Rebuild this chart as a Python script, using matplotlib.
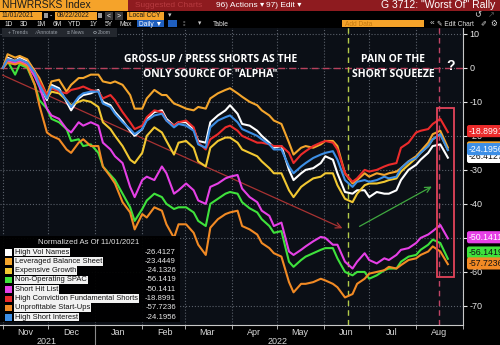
import pandas as pd
import matplotlib
matplotlib.use("Agg")
import matplotlib.pyplot as plt
import matplotlib.dates as mdates
from matplotlib.patches import Rectangle, Circle
from matplotlib.lines import Line2D
from matplotlib.transforms import blended_transform_factory

plt.rcParams["axes.unicode_minus"] = False
plt.rcParams["font.family"] = ["Liberation Sans", "DejaVu Sans"]

W, H = 500, 345

# every third business day, 11/01/2021 .. 08/22/2022
dates = pd.bdate_range("2021-11-01", "2022-08-22")[::3]

names = ["High Vol Names", "Leveraged Balance Sheet", "Expensive Growth", "Non-Operating SPAC",
         "Short Hit List", "High Conviction Fundamental Shorts", "Unprofitable Start-Ups",
         "High Short Interest"]
colors = ["#ffffff", "#f4a52c", "#f2c832", "#3fe23c", "#e640e6", "#ec2b2b", "#f28a24", "#3d8fe6"]
last_values = [-26.4127, -23.4449, -24.1326, -56.1419, -50.1411, -18.8991, -57.7236, -24.1956]

high_vol = [0, 3, 2, 3, 2, -1, -5, -9.5, -5, -6,
            -10, -12.5, -9, -8, -7.5, -6.5, -10, -11, -13, -15.5,
            -18.5, -20, -18, -15, -13, -12.5, -15, -17, -16, -16,
            -18, -21.5, -22, -16, -14, -12.5, -11, -13.5, -16.5, -17,
            -18.5, -20, -22, -23.5, -23, -30, -33, -31, -30, -29.5,
            -28, -26, -27, -31, -36.5, -37, -36, -36, -38, -36.5,
            -37, -37, -36, -33, -30, -28.5, -27, -25, -23, -22.5, -26.4127]
lev_balance = [0, 4, 3, 3.5, 2.5, -1, -3, -8, -4, -3.5,
               -7, -5, -3, -3, -2, -2, -4, -4.5, -4, -5,
               -8, -12, -12, -9, -6.5, -8, -8, -10.5, -11, -12,
               -12.5, -11.5, -12, -9, -7.5, -6.5, -6, -7.5, -8.5, -10,
               -11, -12.5, -14, -15.5, -16.5, -22, -25.5, -23.5, -23, -23.5,
               -22.5, -21.5, -21.5, -23, -31, -34, -33, -31, -32, -31,
               -31.5, -31, -30.5, -29.5, -27.5, -26, -24.5, -22, -19.5, -18.5, -23.4449]
exp_growth = [0, 2, 1.5, 2, 1, -2, -5, -9, -7, -7.5,
              -9.5, -11, -10, -9.5, -10, -11.5, -16, -18, -20, -23,
              -27, -28, -25, -20, -17.5, -19, -21.5, -25.5, -22, -21.5,
              -23.5, -27.5, -29, -23.5, -21.5, -20.5, -20.5, -22, -24, -25,
              -26, -27.5, -29.5, -31, -31, -36, -38, -35, -34, -32.5,
              -32, -31, -31, -34.5, -38.5, -39.5, -37, -34.5, -34, -34,
              -33.5, -33, -32.5, -30.5, -28.5, -26.5, -25, -23, -21, -19.5, -24.1326]
spac = [0, 2, -2, 1, 0, -5, -9.5, -12, -15, -16,
        -18, -21.5, -21, -23, -22.5, -25, -29, -31.5, -33, -37,
        -41, -45, -41.5, -39, -37, -38, -40, -41.5, -41, -41,
        -42.5, -45, -46.5, -40, -38.5, -37, -36.5, -37, -39.5, -41.3,
        -42.5, -44.5, -46.5, -48.5, -48, -57, -58.5, -56.5, -55.5, -54.5,
        -53.5, -53, -53, -56, -60, -61, -60, -60, -62, -61,
        -59.5, -59, -59, -57, -55.5, -55, -53.5, -52, -50.5, -51.5, -56.1419]
short_hit = [0, 2, 1.5, 2, 1, -2.6, -5.5, -12, -14, -15,
             -18, -19, -16, -17, -16, -17, -22, -24, -26, -28,
             -35, -38, -33, -32, -33, -29, -31, -37, -36, -34,
             -36, -39, -40, -35, -34, -32.5, -32, -31.5, -35.5, -38,
             -39.5, -42, -43.5, -46.5, -45.5, -54, -55, -53.5, -52.5, -51,
             -49.7, -50, -52, -52, -57, -59, -57, -54.5, -56.5, -57.5,
             -56, -56.5, -55, -53.5, -53, -51.5, -50, -49, -48, -46.2, -50.1411]
high_conv = [0, 2.5, 2, 2.5, 1.5, -1.5, -4, -8, -6, -7,
             -7.5, -6.5, -6, -5.5, -6.5, -7, -9, -8, -9.5, -13,
             -16, -18, -17, -14.5, -12.5, -13, -15.5, -17, -16, -15.5,
             -17.5, -22, -24, -21, -19.5, -17.5, -17, -18.5, -20, -21,
             -22, -22, -22.5, -23, -23, -25, -28, -25.5, -24.5, -23,
             -22, -21.5, -22, -24, -31, -33.5, -32.5, -30, -30.5, -30,
             -29, -28.5, -28, -23.5, -22, -19, -18.5, -18, -16.5, -15, -18.8991]
unprofitable = [0, 1.5, 1, 1.5, 0.5, -5, -11, -19, -20, -21,
                -24, -25, -22, -21, -23, -23, -29, -32, -34, -39.5,
                -42.5, -47.5, -43, -44, -41, -42, -46, -50, -46, -46,
                -48.5, -52, -55, -47, -44.5, -43, -42.5, -42, -46.5, -47.5,
                -49, -51.5, -53, -54.5, -55.5, -63, -66, -63.5, -63.5, -63,
                -62, -62.5, -63.5, -64.5, -67.5, -66.5, -63.5, -62, -60.5, -60,
                -59.5, -58.5, -59, -58, -56.5, -56, -55, -54, -52.5, -54, -57.7236]
short_int = [0, 2.5, 2, 2.5, 1.5, -1.5, -5, -9, -5.5, -6.5,
             -9.5, -11.5, -8.5, -7.5, -7, -7, -10.5, -11.5, -13.5, -16,
             -18, -19.5, -18, -15.5, -14, -13.5, -15.5, -17.5, -16.5, -17,
             -18.5, -22.5, -23.5, -17.5, -15.5, -14.5, -14, -16, -18, -19,
             -20, -21, -22.5, -24, -24, -29, -31, -29, -28, -26.5,
             -25.5, -25, -24.5, -27, -33, -35, -33.5, -33, -33.5, -33,
             -32, -32.5, -32, -29.5, -27.5, -26.5, -25, -23, -21, -19.5, -24.1956]

series = [high_vol, lev_balance, exp_growth, spac, short_hit, high_conv, unprofitable, short_int]

fig = plt.figure(figsize=(W / 100, H / 100), dpi=100, facecolor="black")


def px_rect(x0, y0, x1, y1, color, **kw):
    fig.add_artist(Rectangle((x0 / W, 1 - y1 / H), (x1 - x0) / W, (y1 - y0) / H,
                             transform=fig.transFigure, facecolor=color, edgecolor="none", **kw))


def px_text(x, y, s, **kw):
    kw.setdefault("va", "center")
    fig.text(x / W, 1 - y / H, s, **kw)


ax = fig.add_axes([0, 20 / H, 463 / W, 298 / H])
ax.set_facecolor("#0b0f16")

for vals, c in zip(series, colors):
    ax.plot(dates, vals, color=c, lw=1.5, zorder=3)

ax.set_xlim(pd.Timestamp("2021-10-30"), pd.Timestamp("2022-09-01"))
ax.set_ylim(-75.6, 12)

# grid + axes styling
ax.set_yticks(range(-70, 11, 10))
ax.yaxis.tick_right()
ax.tick_params(axis="y", colors="#e6e6e6", labelsize=6.5, length=3, pad=1.5)
ax.xaxis.set_major_locator(mdates.MonthLocator(bymonthday=16))
ax.xaxis.set_major_formatter(mdates.DateFormatter("%b"))
ax.xaxis.set_minor_locator(mdates.MonthLocator())
ax.tick_params(axis="x", which="major", length=0, labelsize=6.5, colors="#d8d8d8", pad=2.5)
ax.tick_params(axis="x", which="minor", length=3, color="#c8c8c8")
ax.grid(axis="y", which="major", color="#5a606a", ls=":", lw=0.8)
ax.grid(axis="x", which="minor", color="#5a606a", ls=":", lw=0.8)
for s in ["top", "left"]:
    ax.spines[s].set_visible(False)
for s in ["right", "bottom"]:
    ax.spines[s].set_color("#c8c8c8")
    ax.spines[s].set_linewidth(0.8)

# reference lines
ax.axhline(0, color="#b8405c", lw=1, dashes=(5, 3), zorder=2)
ax.axvline(pd.Timestamp("2022-06-17"), color="#b4cc4a", lw=1, dashes=(4, 3), zorder=2)
ax.axvline(pd.Timestamp("2022-08-16"), color="#c04466", lw=1, dashes=(4, 3), zorder=2)

# arrows
ax.annotate("", xy=(mdates.date2num(pd.Timestamp("2022-06-15")), -47.5),
            xytext=(mdates.date2num(pd.Timestamp("2021-10-30")), -1.8),
            arrowprops=dict(arrowstyle="->", color="#a83232", lw=0.9), zorder=2)
ax.annotate("", xy=(mdates.date2num(pd.Timestamp("2022-08-13")), -34.5),
            xytext=(mdates.date2num(pd.Timestamp("2022-06-23")), -47),
            arrowprops=dict(arrowstyle="->", color="#3fa83f", lw=0.9), zorder=2)

# red box around the last days
x0 = mdates.date2num(pd.Timestamp("2022-08-15"))
x1 = mdates.date2num(pd.Timestamp("2022-08-26"))
ax.add_patch(Rectangle((x0, -61.5), x1 - x0, 49.7, facecolor="none",
                       edgecolor="#e2445a", lw=1.3, zorder=4))

# annotations
ax.text(pd.Timestamp("2022-03-18"), 0.2, 'GROSS-UP / PRESS SHORTS AS THE\nONLY SOURCE OF "ALPHA"',
        color="white", fontsize=7.5, fontweight="bold", ha="center", va="center",
        linespacing=1.45, family=["Open Sans", "DejaVu Sans"], zorder=5)
ax.text(pd.Timestamp("2022-07-17"), 0.2, "PAIN OF THE\nSHORT SQUEEZE",
        color="white", fontsize=7.5, fontweight="bold", ha="center", va="center",
        linespacing=1.45, family=["Open Sans", "DejaVu Sans"], zorder=5)
ax.text(pd.Timestamp("2022-08-24"), 0.5, "?", color="white", fontsize=10, fontweight="bold",
        ha="center", va="center", zorder=5)

# value tags on the right axis (the reference crops them at the image edge)
tr = blended_transform_factory(ax.transAxes, ax.transData)
tag_pos = [-26.2, -23.4, -24.1, -54.3, -49.8, -18.6, -57.5, -23.9]
tag_text = ["#111111", "#111111", "#111111", "#111111", "white", "white", "#111111", "white"]
for i in [1, 2, 0, 7, 5, 3, 6, 4]:
    ax.text(1.012, tag_pos[i], "%.4f" % last_values[i], transform=tr, fontsize=6.3,
            color=tag_text[i], va="center", ha="left", clip_on=False, zorder=10,
            bbox=dict(boxstyle="round,pad=0.18,rounding_size=0.25", facecolor=colors[i],
                      edgecolor="none"))

# year labels under the month axis
px_text(47, 341, "2021", color="#d8d8d8", fontsize=6.5, ha="center")
px_text(278, 341, "2022", color="#d8d8d8", fontsize=6.5, ha="center")
fig.add_artist(Line2D([95 / W, 95 / W], [0, 1 - 326 / H], transform=fig.transFigure,
                      color="#8a8a8a", lw=0.8))

# legend block
px_rect(0, 236, 180, 322, "black", alpha=0.95)
px_text(89, 243, "Normalized As Of 11/01/2021", color="#e0e0e0", fontsize=5.6, ha="center")
for k, (n, c, v) in enumerate(zip(names, colors, last_values)):
    y = 252 + k * 9.3
    px_rect(5, y - 3, 12, y + 3.5, c)
    px_text(15, y, n, color="#111111", fontsize=5.4,
            bbox=dict(facecolor="#f2f2f2", edgecolor="none", pad=0.6))
    px_text(176, y, "%.4f" % v, color="#e8e8e8", fontsize=5.6, ha="right")

# Bloomberg toolbar rows
px_rect(0, 0, 500, 11, "#8e1b1f")
px_rect(0, 0, 128, 11, "#f5a32a")
px_text(2, 5.5, "NHWRRSKS Index", color="#1a1a1a", fontsize=7.5)
px_text(135, 5.5, "Suggested Charts", color="#b63a3f", fontsize=6)
px_text(216, 5.5, "96) Actions \u25be", color="white", fontsize=6)
px_text(266, 5.5, "97) Edit \u25be", color="white", fontsize=6)
px_text(495, 5.5, 'G 3712: "Worst Of" Rally', color="white", fontsize=7.5, ha="right")

px_rect(0, 11, 500, 20, "black")
px_rect(0, 12, 42, 19.5, "#f5a32a")
px_text(1.5, 15.8, "11/01/2021", color="#1a1a1a", fontsize=4.8)
px_rect(44, 13, 48, 18, "#9a9a9a")
px_text(50, 15.8, "-", color="white", fontsize=5)
px_rect(55, 12, 97, 19.5, "#f5a32a")
px_text(56.5, 15.8, "08/22/2022", color="#1a1a1a", fontsize=4.8)
px_rect(98, 13, 102, 18, "#9a9a9a")
px_rect(105, 12, 113, 19.5, "#3a3a3a")
px_text(109, 15.8, "<", color="white", fontsize=5, ha="center")
px_rect(115, 12, 123, 19.5, "#3a3a3a")
px_text(119, 15.8, ">", color="white", fontsize=5, ha="center")
px_rect(127, 12, 164, 19.5, "#f5a32a")
px_text(129, 15.8, "Local CCY", color="#1a1a1a", fontsize=4.8)
px_text(168, 15.8, "\u25be", color="#cccccc", fontsize=5)
px_text(478, 15.8, "\u21ba", color="#dddddd", fontsize=6, ha="center")
px_text(491, 15.8, "\u2197", color="#555555", fontsize=6, ha="center")

px_rect(0, 20, 500, 27.5, "black")
for lab, x in zip(["1D", "3D", "1M", "6M", "YTD", "1Y", "5Y", "Max"],
                  [5, 20, 37, 53, 68, 90, 105, 120]):
    px_text(x, 24, lab, color="#e0e0e0", fontsize=4.8)
px_rect(137, 20.5, 164, 27, "#1f5fbf")
px_text(139, 24, "Daily \u25bc", color="white", fontsize=4.8)
px_rect(168, 20.5, 177, 27, "#1f5fbf")
px_text(182, 24, "\u205e\u205e", color="#aaaaaa", fontsize=4.8)
px_text(198, 24, "\u25be", color="#cccccc", fontsize=4.8)
px_text(213, 24, "Table", color="#e0e0e0", fontsize=4.8)
px_rect(342, 20.5, 424, 27, "#f5a32a")
px_text(345, 24, "Add Data", color="#c47a10", fontsize=4.8)
px_text(430, 24, "\u00ab", color="#e0e0e0", fontsize=6)
px_text(437, 24, "\u270e Edit Chart", color="#e0e0e0", fontsize=4.8)
px_text(483, 24, "\u2710", color="#e0e0e0", fontsize=5, ha="center")
px_text(494, 24, "\u2699", color="#e0e0e0", fontsize=5.5, ha="center")

px_rect(2, 28.5, 117, 37, "#23272e")
for lab, x in zip(["+ Trends", "\u2215 Annotate", "\u2261 News", "Zoom"], [8, 35, 67, 98]):
    px_text(x, 32.8, lab, color="#9aa0a8", fontsize=3.6)
# magnifier icon in front of "Zoom"
fig.add_artist(Circle((95 / W, 1 - 32.5 / H), 1.4 / W, transform=fig.transFigure,
                      facecolor="none", edgecolor="#9aa0a8", lw=0.5))

fig.savefig("out.png", dpi=100, facecolor="black")
